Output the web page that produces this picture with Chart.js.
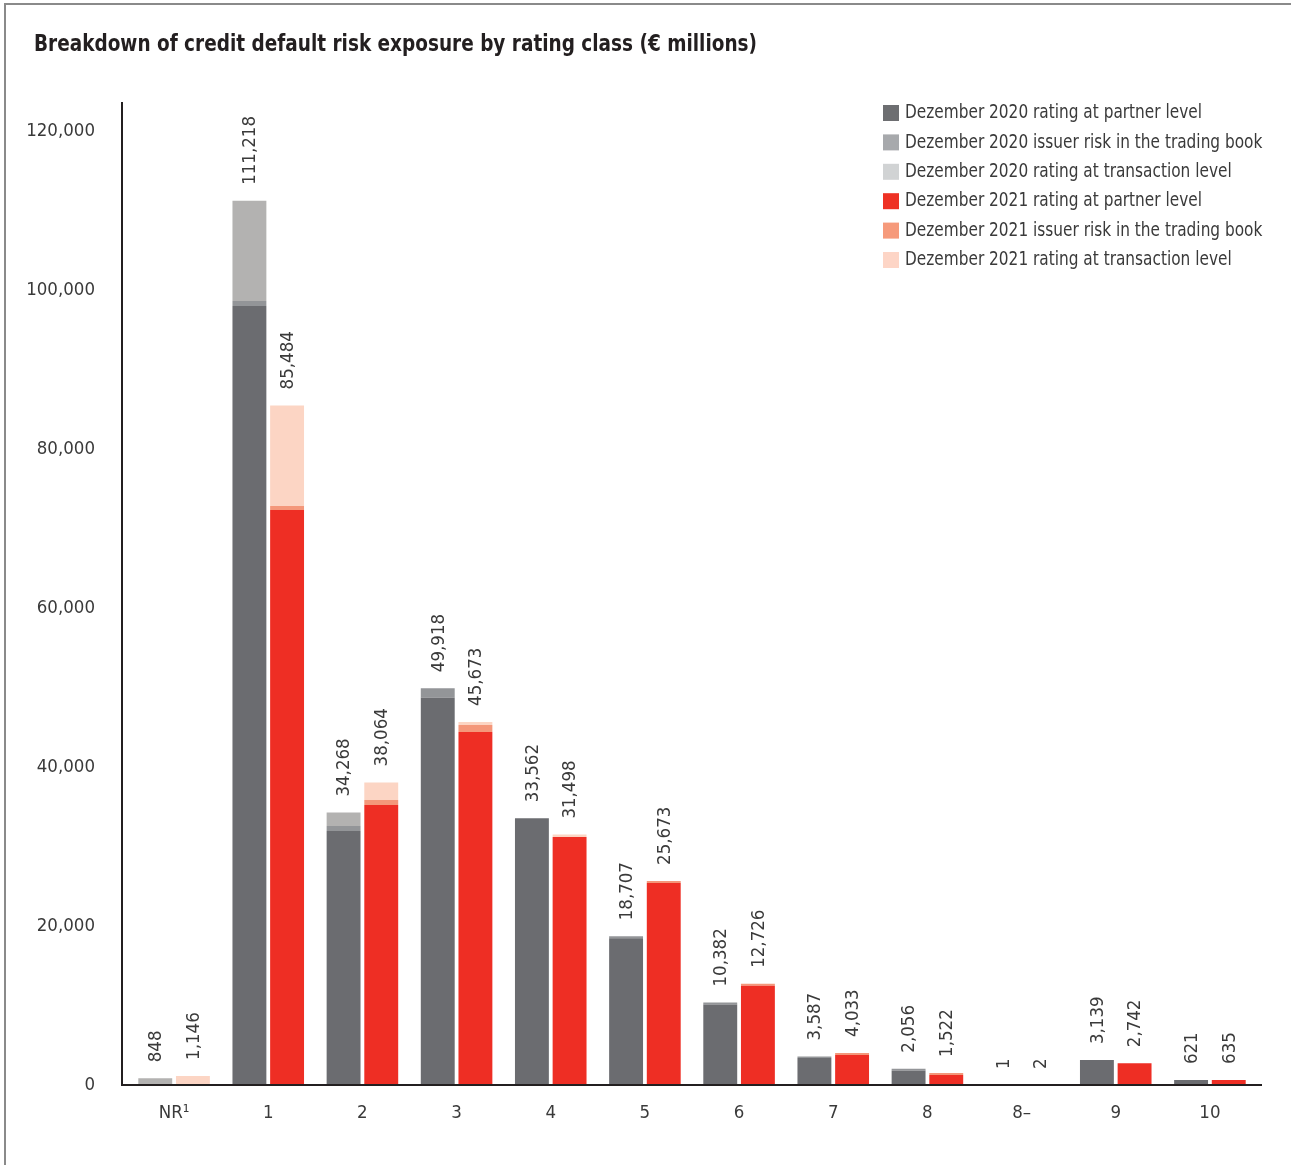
<!DOCTYPE html>
<html>
<head>
<meta charset="utf-8">
<title>Credit default risk exposure by rating class</title>
<script src="https://cdn.jsdelivr.net/npm/chart.js@4.4.1/dist/chart.umd.min.js"></script>
<style>
    html, body { margin: 0; padding: 0; background: #fff; }
    #wrap { position: relative; width: 1291px; height: 1165px; }
    #frame { position: absolute; left: 4px; top: 3px; right: 0; bottom: 0;
             border-top: 2px solid #8a8a8a; border-left: 2px solid #8a8a8a; }
    canvas { position: absolute; left: 0; top: 0; }
</style>
</head>
<body>
<div id="wrap">
    <div id="frame"></div>
    <canvas id="creditChart" width="1291" height="1165"></canvas>
</div>
<script>
// Rating classes (x axis)
const ratingClasses = ['NR¹', '1', '2', '3', '4', '5', '6', '7', '8', '8–', '9', '10'];

// Dezember 2020 (€ millions)
const partner2020     = [0, 98000, 31950, 48700, 33562, 18457, 10132, 3387, 1806, 1, 3139, 621];
const issuer2020      = [0, 630, 630, 1218, 0, 250, 250, 200, 250, 0, 0, 0];
const transaction2020 = [848, 12588, 1688, 0, 0, 0, 0, 0, 0, 0, 0, 0];
const total2020       = [848, 111218, 34268, 49918, 33562, 18707, 10382, 3587, 2056, 1, 3139, 621];

// Dezember 2021 (€ millions)
const partner2021     = [0, 72330, 35221, 44404, 31198, 25423, 12476, 3783, 1272, 2, 2742, 635];
const issuer2021      = [0, 500, 630, 880, 0, 250, 250, 250, 250, 0, 0, 0];
const transaction2021 = [1146, 12654, 2213, 389, 300, 0, 0, 0, 0, 0, 0, 0];
const total2021       = [1146, 85484, 38064, 45673, 31498, 25673, 12726, 4033, 1522, 2, 2742, 635];

const chartTitle = 'Breakdown of credit default risk exposure by rating class (€ millions)';
const FONT = "'Liberation Sans Narrow', 'DejaVu Sans Condensed', 'Roboto', sans-serif";
const TEXT_COLOR = '#3a3a3a';

// legend swatches are a touch lighter than the bars in the original
const legendColors = ['#6d6e71', '#a7a9ac', '#d1d3d4', '#ee3124', '#f69a7b', '#fdd5c6'];

function fmt(v) {
    return v.toLocaleString('en-US');
}

// Draws title, axis lines, the rotated totals and the legend
const overlayPlugin = {
    id: 'overlay',
    afterDraw(chart) {
        const ctx = chart.ctx;
        const area = chart.chartArea;
        const yScale = chart.scales.y;
        ctx.save();

        // title (squeezed a little, the original is a condensed face)
        ctx.save();
        ctx.fillStyle = '#231f20';
        ctx.font = 'bold 23px ' + FONT;
        ctx.textAlign = 'left';
        ctx.textBaseline = 'middle';
        ctx.translate(34, 45);
        ctx.scale(723 / ctx.measureText(chartTitle).width, 1);
        ctx.fillText(chartTitle, 0, 0);
        ctx.restore();

        // axis lines
        ctx.strokeStyle = '#231f20';
        ctx.lineWidth = 2;
        ctx.beginPath();
        ctx.moveTo(area.left - 5, 102);
        ctx.lineTo(area.left - 5, area.bottom + 1);
        ctx.moveTo(area.left - 6, area.bottom);
        ctx.lineTo(area.right + 5, area.bottom);
        ctx.stroke();

        // totals above each stack
        ctx.fillStyle = TEXT_COLOR;
        ctx.font = '18.5px ' + FONT;
        const stacks = [[0, total2020], [3, total2021]];
        stacks.forEach(([dsIndex, totals]) => {
            const meta = chart.getDatasetMeta(dsIndex);
            totals.forEach((t, i) => {
                const x = meta.data[i].x;
                const top = yScale.getPixelForValue(t);
                ctx.save();
                ctx.translate(x, top - 16);
                ctx.rotate(-Math.PI / 2);
                ctx.textAlign = 'left';
                ctx.textBaseline = 'middle';
                ctx.fillText(fmt(t), 0, 1);
                ctx.restore();
            });
        });

        // legend
        ctx.font = '20px ' + FONT;
        ctx.textAlign = 'left';
        ctx.textBaseline = 'middle';
        chart.data.datasets.forEach((ds, i) => {
            const cy = 113 + i * 29.4;
            ctx.fillStyle = legendColors[i];
            ctx.fillRect(883, cy - 8, 16, 16);
            ctx.save();
            ctx.fillStyle = TEXT_COLOR;
            ctx.translate(905, cy);
            ctx.scale(0.853, 1);
            ctx.fillText(ds.label, 0, 0);
            ctx.restore();
        });

        ctx.restore();
    }
};

const ctx = document.getElementById('creditChart').getContext('2d');
const creditChart = new Chart(ctx, {
    type: 'bar',
    data: {
        labels: ratingClasses,
        datasets: [
            { label: 'Dezember 2020 rating at partner level', data: partner2020, backgroundColor: '#6b6c70', stack: '2020' },
            { label: 'Dezember 2020 issuer risk in the trading book', data: issuer2020, backgroundColor: '#939598', stack: '2020' },
            { label: 'Dezember 2020 rating at transaction level', data: transaction2020, backgroundColor: '#b3b2b1', stack: '2020' },
            { label: 'Dezember 2021 rating at partner level', data: partner2021, backgroundColor: '#ee2e24', stack: '2021' },
            { label: 'Dezember 2021 issuer risk in the trading book', data: issuer2021, backgroundColor: '#f4977a', stack: '2021' },
            { label: 'Dezember 2021 rating at transaction level', data: transaction2021, backgroundColor: '#fcd5c4', stack: '2021' }
        ]
    },
    options: {
        responsive: false,
        animation: false,
        layout: {
            padding: { left: 4, right: 34, top: 131, bottom: 0 }
        },
        datasets: {
            bar: {
                categoryPercentage: 0.8,
                barPercentage: 0.9,
                borderWidth: 0
            }
        },
        plugins: {
            legend: { display: false },
            title: { display: false },
            tooltip: { enabled: false }
        },
        scales: {
            x: {
                stacked: true,
                grid: { display: false, drawTicks: false },
                border: { display: false },
                ticks: {
                    color: TEXT_COLOR,
                    font: { family: FONT, size: 18.5 },
                    padding: 17
                },
                afterFit: scale => { scale.height = 80; }
            },
            y: {
                stacked: true,
                min: 0,
                max: 120000,
                grid: { display: false, drawTicks: false },
                border: { display: false },
                ticks: {
                    stepSize: 20000,
                    color: TEXT_COLOR,
                    font: { family: FONT, size: 18.5 },
                    padding: 32,
                    callback: v => fmt(v)
                },
                afterFit: scale => { scale.width = 123; }
            }
        }
    },
    plugins: [overlayPlugin]
});
</script>
</body>
</html>
